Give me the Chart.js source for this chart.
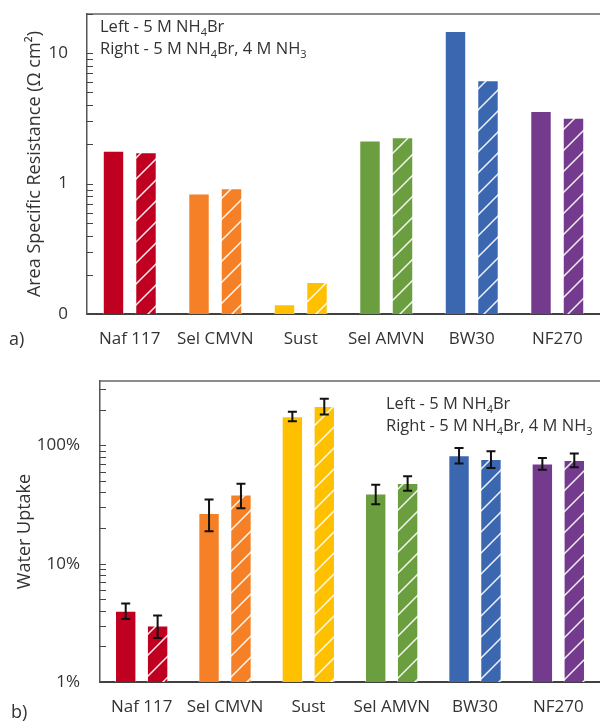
<!DOCTYPE html>
<html>
<head>
<meta charset="utf-8">
<script src="https://cdn.jsdelivr.net/npm/chart.js@4"></script>
<style>
  body { margin: 0; background: #fff; }
  #wrap { position: relative; width: 600px; height: 722px; overflow: hidden; }
  canvas { position: absolute; left: 0; }
  #resistChart { top: 0; }
  #uptakeChart { top: 362px; }
  .panel { position: absolute; font: 18px "Open Sans", sans-serif; color: #333; }
</style>
</head>
<body>
<div id="wrap">
  <canvas id="resistChart" width="600" height="360"></canvas>
  <canvas id="uptakeChart" width="600" height="360"></canvas>
  <div class="panel" style="left:9px; top:326px;">a)</div>
  <div class="panel" style="left:11px; top:699px;">b)</div>
</div>
<script>
// membranes
const membranes = ["Naf 117", "Sel CMVN", "Sust", "Sel AMVN", "BW30", "NF270"];
const membraneColors = ["#C00020", "#F58025", "#FFC000", "#6A9E3F", "#3A67B0", "#733A8D"];

// a) area specific resistance, ohm cm2
const resistLeft = [1.79, 0.84, 0.119, 2.14, 14.8, 3.6];   // 5 M NH4Br
const resistRight = [1.74, 0.92, 0.176, 2.27, 6.2, 3.2];   // 5 M NH4Br, 4 M NH3
const resistTicks = [0.1, 0.2, 0.3, 0.4, 0.5, 0.6, 0.7, 0.8, 0.9, 1, 2, 3, 4, 5, 6, 7, 8, 9, 10, 20];
const resistTickLabels = { 0.1: "0", 1: "1", 10: "10" };

// b) water uptake, %
const uptakeLeft = [4.0, 26.8, 176, 39.1, 82.5, 70.2];
const uptakeLeftErr = [0.6, 8, 16, 7.3, 12.4, 8];
const uptakeRight = [3.0, 38.4, 215, 48.1, 76.7, 75.3];
const uptakeRightErr = [0.65, 9, 33, 6.8, 12.3, 9.9];
const uptakeTicks = [1, 2, 3, 4, 5, 6, 7, 8, 9, 10, 20, 30, 40, 50, 60, 70, 80, 90, 100, 200, 300];
const uptakeTickLabels = { 1: "1%", 10: "10%", 100: "100%" };

const noteLines = [
    [["Left - 5 M NH", ""], ["4", "sub"], ["Br", ""]],
    [["Right - 5 M NH", ""], ["4", "sub"], ["Br, 4 M NH", ""], ["3", "sub"]]
];

const fontFamily = '"Open Sans", sans-serif';
const textColor = "#333";

// white diagonal hatch over a base colour
function hatch(color) {
    const s = 21;
    const c = document.createElement("canvas");
    c.width = s; c.height = s;
    const g = c.getContext("2d");
    g.fillStyle = color;
    g.fillRect(0, 0, s, s);
    g.strokeStyle = "rgba(255,255,255,0.92)";
    g.lineWidth = 1.5;
    g.beginPath();
    g.moveTo(-2, s + 2); g.lineTo(s + 2, -2);
    g.moveTo(-2, 2); g.lineTo(2, -2);
    g.moveTo(s - 2, s + 2); g.lineTo(s + 2, s - 2);
    g.stroke();
    return g.createPattern(c, "repeat");
}

// top frame line, inward ticks, notes, error bars
const extras = {
    id: "extras",
    afterDatasetsDraw(chart) {
        const { ctx, scales: { y } } = chart;
        ctx.save();
        ctx.strokeStyle = "#111";
        ctx.lineWidth = 2;
        chart.data.datasets.forEach((ds, i) => {
            if (!ds.errors) return;
            chart.getDatasetMeta(i).data.forEach((bar, j) => {
                const hi = y.getPixelForValue(ds.data[j] + ds.errors[j]);
                const lo = y.getPixelForValue(ds.data[j] - ds.errors[j]);
                ctx.beginPath();
                ctx.moveTo(bar.x, hi); ctx.lineTo(bar.x, lo);
                ctx.moveTo(bar.x - 4.5, hi); ctx.lineTo(bar.x + 4.5, hi);
                ctx.moveTo(bar.x - 4.5, lo); ctx.lineTo(bar.x + 4.5, lo);
                ctx.stroke();
            });
        });
        ctx.restore();
    },
    afterDraw(chart, args, opts) {
        const { ctx, chartArea, scales: { y } } = chart;
        ctx.save();
        ctx.strokeStyle = "#666";
        ctx.lineWidth = 1.5;
        ctx.beginPath();
        ctx.moveTo(chartArea.left, chartArea.top);
        ctx.lineTo(chartArea.right, chartArea.top);
        ctx.stroke();

        ctx.strokeStyle = "#444";
        ctx.lineWidth = 1;
        y.ticks.forEach(t => {
            const py = Math.round(y.getPixelForValue(t.value)) + 0.5;
            ctx.beginPath();
            ctx.moveTo(chartArea.left, py);
            ctx.lineTo(chartArea.left + 6, py);
            ctx.stroke();
        });

        // notes with subscripts
        ctx.fillStyle = textColor;
        ctx.textBaseline = "alphabetic";
        noteLines.forEach((line, k) => {
            let x = chartArea.left + opts.dx;
            const base = chartArea.top + opts.dy + k * 22;
            line.forEach(([txt, kind]) => {
                ctx.font = (kind === "sub" ? "11px " : "16.5px ") + fontFamily;
                ctx.fillText(txt, x, kind === "sub" ? base + 4 : base);
                x += ctx.measureText(txt).width;
            });
        });
        ctx.restore();
    }
};

function makeChart(el, cfg) {
    return new Chart(el.getContext("2d"), {
        type: "bar",
        data: {
            labels: membranes,
            datasets: [{
                data: cfg.left,
                errors: cfg.leftErr,
                backgroundColor: membraneColors,
                borderColor: "rgba(255,255,255,0.45)",
                borderWidth: 1,
                categoryPercentage: cfg.cat,
                barPercentage: cfg.bar
            }, {
                data: cfg.right,
                errors: cfg.rightErr,
                backgroundColor: membraneColors.map(hatch),
                borderColor: "rgba(255,255,255,0.45)",
                borderWidth: 1,
                categoryPercentage: cfg.cat,
                barPercentage: cfg.bar
            }]
        },
        options: {
            responsive: false,
            animation: false,
            layout: { padding: { top: cfg.padTop, left: 0, right: 0, bottom: 0 } },
            plugins: {
                legend: { display: false },
                tooltip: { enabled: false },
                extras: { dx: cfg.noteX, dy: cfg.noteY }
            },
            scales: {
                x: {
                    grid: { display: false, drawTicks: false },
                    border: { display: true, color: "#404040", width: 2 },
                    ticks: { color: textColor, font: { family: fontFamily, size: 17 }, padding: 15, maxRotation: 0 },
                    afterFit: s => {
                        s.height = cfg.xHeight;
                        s.paddingLeft = 0; s.paddingRight = 0;
                    }
                },
                y: {
                    type: "logarithmic",
                    min: cfg.min,
                    max: cfg.max,
                    grid: { display: false, drawTicks: false },
                    border: { display: true, color: "#555", width: 1.5 },
                    afterBuildTicks: s => { s.ticks = cfg.ticks.map(v => ({ value: v })); },
                    ticks: {
                        autoSkip: false,
                        color: textColor,
                        font: { family: fontFamily, size: 17 },
                        padding: cfg.tickPad,
                        callback: v => cfg.tickLabels[v] || ""
                    },
                    title: {
                        display: true,
                        text: cfg.title,
                        color: textColor,
                        font: { family: fontFamily, size: 18 },
                        padding: { top: cfg.titlePad, bottom: 0 }
                    },
                    afterFit: s => {
                        s.width = cfg.yWidth;
                        s.paddingTop = 0; s.paddingBottom = 0;
                    }
                }
            }
        },
        plugins: [extras]
    });
}

makeChart(document.getElementById("resistChart"), {
    left: resistLeft, right: resistRight,
    min: 0.1, max: 20, ticks: resistTicks, tickLabels: resistTickLabels,
    title: "Area Specific Resistance (Ω cm²)",
    cat: 0.76, bar: 0.66,
    padTop: 14, xHeight: 46, yWidth: 87, tickPad: 19, titlePad: 24,
    noteX: 13, noteY: 18
});

makeChart(document.getElementById("uptakeChart"), {
    left: uptakeLeft, right: uptakeRight, leftErr: uptakeLeftErr, rightErr: uptakeRightErr,
    min: 1, max: 350, ticks: uptakeTicks, tickLabels: uptakeTickLabels,
    title: "Water Uptake",
    cat: 0.766, bar: 0.67,
    padTop: 19, xHeight: 40, yWidth: 100, tickPad: 20, titlePad: 14,
    noteX: 286, noteY: 28
});
</script>
</body>
</html>
